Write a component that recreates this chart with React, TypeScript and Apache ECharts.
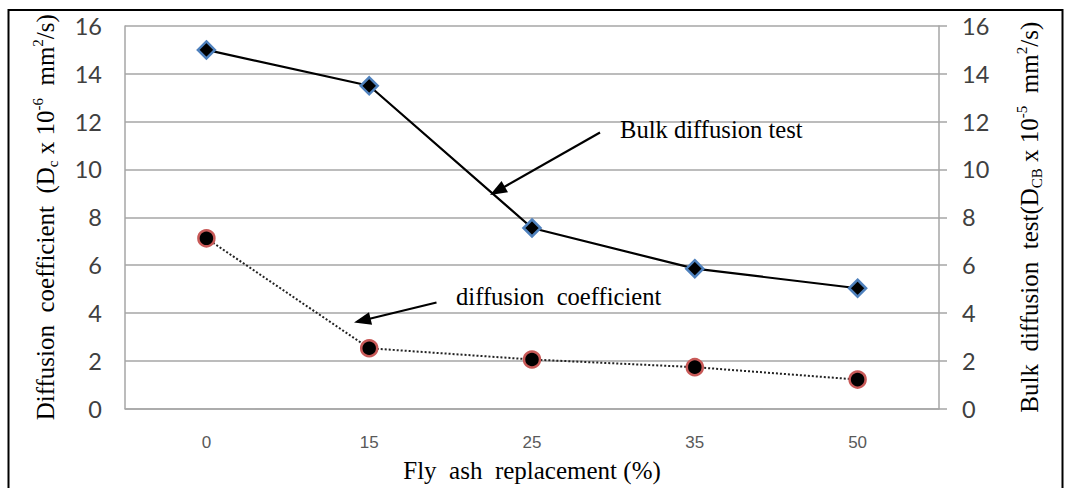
import React, { useEffect, useRef } from "react";
import * as echarts from "echarts";

const categories = ["0", "15", "25", "35", "50"];
const bulkDiffusion = [15.0, 13.5, 7.55, 5.85, 5.03];
const diffusionCoef = [7.12, 2.52, 2.05, 1.73, 1.21];
const yMin = 0;
const yMax = 16;
const yStep = 2;

const SERIF = "'Liberation Serif', 'Times New Roman', serif";
const NUM = "Lato, 'Open Sans', sans-serif";

function arrow(x1: number, y1: number, x2: number, y2: number) {
  const dx = x2 - x1;
  const dy = y2 - y1;
  const len = Math.sqrt(dx * dx + dy * dy);
  const ux = dx / len;
  const uy = dy / len;
  const L = 17;
  const w = 6.5;
  const bx = x2 - ux * L;
  const by = y2 - uy * L;
  const px = -uy;
  const py = ux;
  return [
    {
      type: "line",
      shape: { x1, y1, x2: bx + ux * 2, y2: by + uy * 2 },
      style: { stroke: "#000", lineWidth: 2.2 },
      z: 100,
    },
    {
      type: "polygon",
      shape: {
        points: [
          [x2, y2],
          [bx + px * w, by + py * w],
          [bx - px * w, by - py * w],
        ],
      },
      style: { fill: "#000" },
      z: 100,
    },
  ];
}

const richTitle = {
  m: { fontFamily: SERIF, fontSize: 25, color: "#000", verticalAlign: "middle", lineHeight: 30 },
  sup: { fontFamily: SERIF, fontSize: 15, color: "#000", verticalAlign: "top", lineHeight: 30 },
  sub: { fontFamily: SERIF, fontSize: 15, color: "#000", verticalAlign: "bottom", lineHeight: 30 },
};

export default function App() {
  const ref = useRef<HTMLDivElement>(null);
  useEffect(() => {
    if (!ref.current) return;
    const chart = echarts.init(ref.current, null, { renderer: "svg" });
    const option = {
      animation: false,
      backgroundColor: "#fff",
      grid: { left: 125, right: 126, top: 26, bottom: 74, containLabel: false },
      xAxis: {
        type: "category",
        data: categories,
        boundaryGap: true,
        axisLine: { show: true, lineStyle: { color: "#A6A6A6", width: 1.5 } },
        axisTick: { show: false },
        axisLabel: {
          margin: 25,
          fontFamily: "'Liberation Sans', Arial, sans-serif",
          fontSize: 17,
          color: "#595959",
        },
        name: "{m|Fly  ash  replacement (%)}",
        nameLocation: "middle",
        nameGap: 47,
        nameTextStyle: { rich: richTitle },
      },
      yAxis: [
        {
          type: "value",
          min: yMin,
          max: yMax,
          interval: yStep,
          position: "left",
          axisLine: { show: true, lineStyle: { color: "#A6A6A6", width: 1.5 } },
          axisTick: { show: false },
          splitLine: { show: true, lineStyle: { color: "#A6A6A6", width: 1.5 } },
          axisLabel: { margin: 23, fontFamily: NUM, fontSize: 23.5, color: "#404040" },
          name:
            "{m|Diffusion  coefficient  (D}{sub|c}{m| x 10}{sup|-6}{m|  mm}{sup|2}{m|/s)}",
          nameLocation: "middle",
          nameRotate: 90,
          nameGap: 65,
          nameTextStyle: { rich: richTitle },
        },
        {
          type: "value",
          min: yMin,
          max: yMax,
          interval: yStep,
          position: "right",
          axisLine: { show: true, lineStyle: { color: "#A6A6A6", width: 1.5 } },
          axisTick: { show: true, length: 8, inside: false, lineStyle: { color: "#A6A6A6", width: 1.5 } },
          splitLine: { show: false },
          axisLabel: { margin: 23, fontFamily: NUM, fontSize: 23.5, color: "#404040" },
          name:
            "{m|Bulk  diffusion  test(D}{sub|CB}{m| x 10}{sup|-5}{m|  mm}{sup|2}{m|/s)}",
          nameLocation: "middle",
          nameRotate: 90,
          nameGap: 75,
          nameTextStyle: { rich: richTitle },
        },
      ],
      series: [
        {
          name: "Bulk diffusion test",
          type: "line",
          yAxisIndex: 1,
          data: bulkDiffusion,
          symbol: "diamond",
          symbolSize: 17,
          lineStyle: { color: "#000", width: 2.2 },
          itemStyle: { color: "#000", borderColor: "#4F81BD", borderWidth: 2.5 },
          z: 5,
        },
        {
          name: "diffusion coefficient",
          type: "line",
          yAxisIndex: 0,
          data: diffusionCoef,
          symbol: "circle",
          symbolSize: 16,
          lineStyle: { color: "#222", width: 2, type: [2, 2] },
          itemStyle: { color: "#000", borderColor: "#C85A58", borderWidth: 2.5 },
          z: 5,
        },
      ],
      graphic: [
        {
          type: "rect",
          shape: { x: 8.5, y: 10, width: 1054, height: 500 },
          style: { fill: "none", stroke: "#000", lineWidth: 2 },
          z: 0,
        },
        {
          type: "text",
          x: 620,
          y: 129,
          style: {
            text: "Bulk diffusion test",
            font: `24.6px ${SERIF}`,
            fill: "#000",
            textAlign: "left",
            textVerticalAlign: "middle",
          },
          z: 100,
        },
        {
          type: "text",
          x: 456,
          y: 296,
          style: {
            text: "diffusion  coefficient",
            font: `24.6px ${SERIF}`,
            fill: "#000",
            textAlign: "left",
            textVerticalAlign: "middle",
          },
          z: 100,
        },
        ...arrow(600, 132.5, 490, 195),
        ...arrow(436.5, 302.5, 354, 322.5),
      ],
    };
    chart.setOption(option as any);
    return () => chart.dispose();
  }, []);
  return (
    <div
      ref={ref}
      style={{ position: "absolute", left: 0, top: 0, width: 1065, height: 488 }}
    />
  );
}
